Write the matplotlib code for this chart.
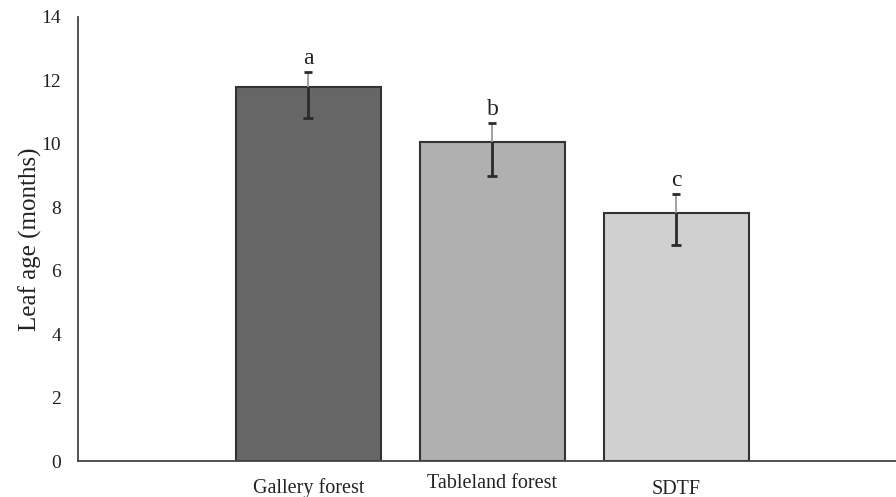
import matplotlib
matplotlib.use("Agg")
import matplotlib.pyplot as plt
import matplotlib.transforms as mtransforms

categories = ["Gallery forest", "Tableland forest", "SDTF"]
means = [11.80, 10.06, 7.82]
err_upper = [0.47, 0.60, 0.60]
err_lower = [0.99, 1.07, 1.01]
letters = ["a", "b", "c"]
bar_colors = ["#666666", "#b0b0b0", "#d0d0d0"]
yticks = [0, 2, 4, 6, 8, 10, 12, 14]

plt.rcParams['font.family'] = ['Liberation Serif', 'DejaVu Serif']

fig = plt.figure(figsize=(8.96, 4.97), dpi=100)
ax = fig.add_axes([0.087, 0.0724, 0.913, 0.8934])

x = list(range(len(categories)))
ax.bar(x, means, width=0.79, color=bar_colors, edgecolor="#333333", linewidth=1.5, zorder=2)

highs = [m + e for m, e in zip(means, err_upper)]
lows = [m - e for m, e in zip(means, err_lower)]
# lower (inside bar) part of error bars: dark
ax.vlines(x, lows, means, colors="#2a2a2a", linewidth=2.0, zorder=3)
# upper part: lighter thin line
ax.vlines(x, means, highs, colors="#9a9a9a", linewidth=1.3, zorder=3)
# caps
ax.plot(x, highs, linestyle="none", marker="_", markersize=6, markeredgewidth=2.0,
        color="#2a2a2a", zorder=4)
ax.plot(x, lows, linestyle="none", marker="_", markersize=6.5, markeredgewidth=2.0,
        color="#2a2a2a", zorder=4)

for xi, h, lab in zip(x, highs, letters):
    ax.annotate(lab, (xi, h), xytext=(0, 6), textcoords="offset points",
                ha="center", va="baseline", fontsize=17, color="#222222")

ax.set_xlim(-1.253, 3.193)
ax.set_ylim(0, 14)
ax.set_yticks(yticks)
ax.set_yticklabels([str(t) for t in yticks])
ax.set_xticks(x)
ax.set_xticklabels(categories)
ax.tick_params(axis="y", length=0, pad=12, labelsize=14, labelcolor="#222222")
ax.tick_params(axis="x", length=0, pad=12, labelsize=14.5, labelcolor="#222222")

# slight vertical offsets of category labels as in the reference
offsets = [0, 4, -2]
for lbl, off in zip(ax.get_xticklabels(), offsets):
    lbl.set_transform(lbl.get_transform() + mtransforms.ScaledTranslation(0, off / 100, fig.dpi_scale_trans))

ax.set_ylabel("Leaf age (months)", fontsize=18, color="#222222", labelpad=0)

for s in ["top", "right"]:
    ax.spines[s].set_visible(False)
for s in ["left", "bottom"]:
    ax.spines[s].set_color("#444444")
    ax.spines[s].set_linewidth(1.3)

fig.savefig("out.png", dpi=100)
